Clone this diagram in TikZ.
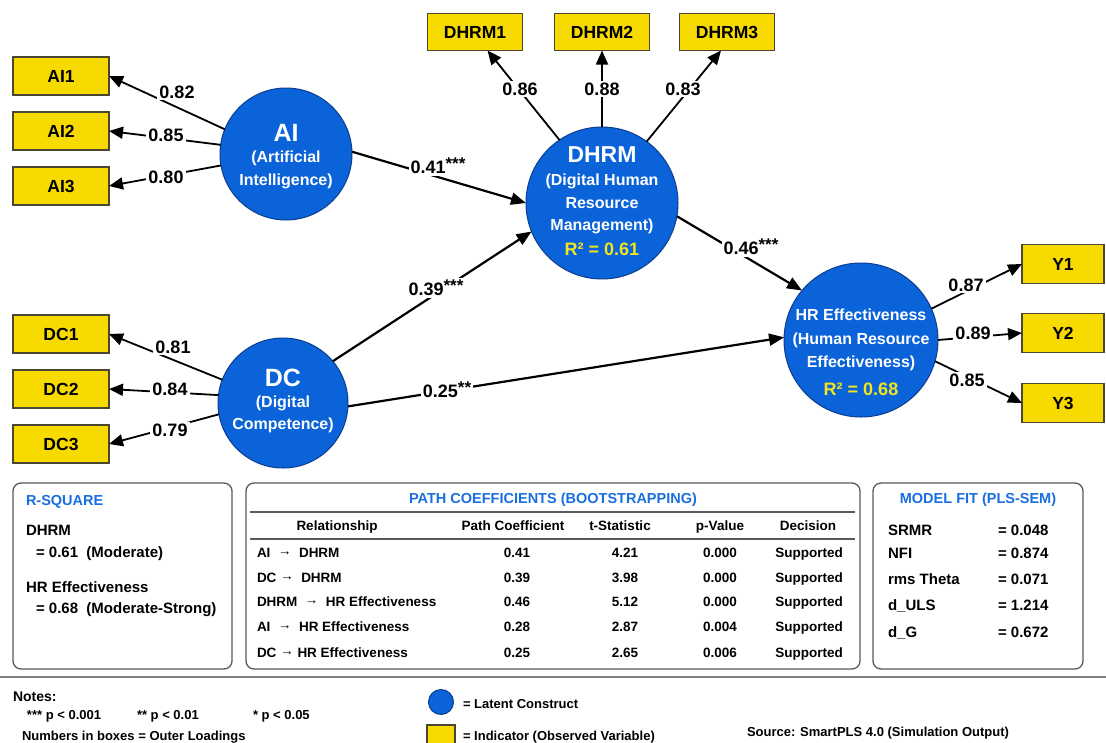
\documentclass[tikz,border=0pt]{standalone}
\usepackage{fontspec}
\setmainfont{Liberation Sans}
\usetikzlibrary{arrows.meta}
\definecolor{latf}{HTML}{0A63D8}
\definecolor{latb}{HTML}{0B3D91}
\definecolor{indf}{HTML}{F7DA00}
\definecolor{indb}{HTML}{4A4630}
\definecolor{ttl}{HTML}{1A6FE0}
\definecolor{rsq}{HTML}{F4E51E}
\definecolor{panel}{HTML}{5A5A5A}
\newcommand\fsz[2]{\fontsize{#1}{#2}\selectfont}
\newcommand\stars[1]{\raisebox{0.22em}{\fsz{17}{17}#1}}
\newcommand\rar{\raisebox{0.08em}{→}}
\begin{document}
\begin{tikzpicture}[x=1pt,y=-1pt,
  every node/.style={inner sep=0pt, outer sep=0pt},
  ind/.style={draw=indb, line width=1.2pt, fill=indf, minimum width=96pt, minimum height=38pt, font=\bfseries\fsz{17.5}{20}},
  lat/.style={circle, draw=latb, line width=1pt, fill=latf},
  ltxt/.style={text=white, font=\bfseries\fsz{16}{18}},
  lbig/.style={text=white, font=\bfseries\fsz{25}{28}},
  lr2/.style={text=rsq, font=\bfseries\fsz{18}{20}},
  load/.style={line width=1.8pt, -{Triangle[length=14pt,width=12pt]}},
  pth/.style={line width=2.2pt, -{Triangle[length=15pt,width=12pt]}},
  lbl/.style={fill=white, inner sep=2pt, font=\bfseries\fsz{18}{20}},
  panelbox/.style={draw=panel, line width=1.3pt, rounded corners=8pt, fill=white},
  ttlS/.style={text=ttl, font=\bfseries\fsz{14.5}{16}},
  tb/.style={font=\bfseries\fsz{13.5}{16}},
  tbb/.style={font=\bfseries\fsz{15}{17}},
  rule/.style={draw=panel, line width=1.8pt},
  nt/.style={font=\bfseries\fsz{13}{15}}
]
\fill[white] (0,0) rectangle (1106,742);
\useasboundingbox (0,0) rectangle (1106,742);

% indicators
\node[ind] (AI1) at (61,76) {AI1};
\node[ind] (AI2) at (61,131) {AI2};
\node[ind] (AI3) at (61,186) {AI3};
\node[ind] (DC1) at (61,334) {DC1};
\node[ind] (DC2) at (61,389) {DC2};
\node[ind] (DC3) at (61,444) {DC3};
\node[ind, minimum width=95pt, minimum height=37pt] (DHRM1) at (475,32) {DHRM1};
\node[ind, minimum width=95pt, minimum height=37pt] (DHRM2) at (602,32) {DHRM2};
\node[ind, minimum width=95pt, minimum height=37pt] (DHRM3) at (727,32) {DHRM3};
\node[ind, minimum width=82pt, minimum height=39pt] (Y1) at (1063,264) {Y1};
\node[ind, minimum width=82pt, minimum height=39pt] (Y2) at (1063,333) {Y2};
\node[ind, minimum width=82pt, minimum height=39pt] (Y3) at (1063,403) {Y3};

% latent constructs
\node[lat, minimum size=132pt] (AI) at (286,154) {};
\node[lat, minimum size=130pt] (DC) at (283,403) {};
\node[lat, minimum size=152pt] (DHRM) at (602,203) {};
\node[lat, minimum size=154pt] (HR) at (861,340) {};

% outer loadings
\draw[load] (AI.158) -- (AI1.east);
\draw[load] (AI.172) -- (AI2.east);
\draw[load] (AI.190) -- (AI3.east);
\draw[load] (DC.159) -- (DC1.east);
\draw[load] (DC.173) -- (DC2.east);
\draw[load] (DC.190) -- (DC3.east);
\draw[load] (DHRM.124) -- (DHRM1.-56);
\draw[load] (DHRM.90) -- (DHRM2.south);
\draw[load] (DHRM.54) -- (DHRM3.-108);
\draw[load] (HR.24) -- (Y1.west);
\draw[load] (HR.0) -- (Y2.west);
\draw[load] (HR.-16) -- (Y3.west);

% structural paths
\draw[pth] (AI.2) -- (DHRM.180);
\draw[pth] (DC.40) -- (DHRM.202);
\draw[pth] (DHRM.-10) -- (HR.140);
\draw[pth] (DC.-3) -- (HR.178);

% labels
\node[lbl] (l82) at (177,92) {0.82};
\node[lbl] (l85) at (166,135) {0.85};
\node[lbl] (l80) at (166,177) {0.80};
\node[lbl] (l81) at (173,347) {0.81};
\node[lbl] (l84) at (170,389) {0.84};
\node[lbl] (l79) at (170,430) {0.79};
\node[lbl] (l86) at (520,89) {0.86};
\node[lbl] (l88) at (602,89) {0.88};
\node[lbl] (l83) at (683,89) {0.83};
\node[lbl] (l87) at (966,285) {0.87};
\node[lbl] (l89) at (973,333) {0.89};
\node[lbl] (l85b) at (967,380) {0.85};
\node[lbl] (p41) at (438,166) {0.41\stars{***}};
\node[lbl] (p39) at (436,288) {0.39\stars{***}};
\node[lbl] (p46) at (751,247) {0.46\stars{***}};
\node[lbl] (p25) at (447,390) {0.25\stars{**}};

% circle texts
\node[lbig] (aiT1) at (286,133) {AI};
\node[ltxt] (aiT2) at (286,158) {(Artificial};
\node[ltxt] (aiT3) at (286,181) {Intelligence)};
\node[lbig] (dcT1) at (283,378) {DC};
\node[ltxt] (dcT2) at (283,403) {(Digital};
\node[ltxt] (dcT3) at (283,425) {Competence)};
\node[lbig, font=\bfseries\fsz{23}{26}] (dhT1) at (602,155) {DHRM};
\node[ltxt] (dhT2) at (602,181) {(Digital Human};
\node[ltxt] (dhT3) at (602,203) {Resource};
\node[ltxt] (dhT4) at (602,226) {Management)};
\node[lr2] (dhT5) at (602,249) {R² = 0.61};
\node[ltxt] (hrT1) at (861,315) {HR Effectiveness};
\node[ltxt] (hrT2) at (861,340) {(Human Resource};
\node[ltxt] (hrT3) at (861,363) {Effectiveness)};
\node[lr2] (hrT4) at (861,389) {R² = 0.68};

% panels
\node[panelbox, minimum width=219pt, minimum height=186pt] (rsqBox) at (122.5,576) {};
\node[panelbox, minimum width=614pt, minimum height=186pt] (pcBox) at (553,576) {};
\node[panelbox, minimum width=210pt, minimum height=186pt] (mfBox) at (978,576) {};

\node[ttlS, anchor=base west] (rsqT) at (26,505) {R-SQUARE};
\node[tbb, anchor=base west] (rsq1) at (26,535.5) {DHRM};
\node[tbb, anchor=base west] (rsq2) at (36,557.5) {= 0.61\ \ (Moderate)};
\node[tbb, anchor=base west] (rsq3) at (26,592.5) {HR Effectiveness};
\node[tbb, anchor=base west] (rsq4) at (36,613.5) {= 0.68\ \ (Moderate-Strong)};

\node[ttlS, anchor=base] (pcT) at (553,503) {PATH COEFFICIENTS (BOOTSTRAPPING)};
\draw[rule] (250,512) -- (855,512);
\draw[rule] (250,539) -- (855,539);
\node[tb, anchor=base] (h1) at (337,530) {Relationship};
\node[tb, anchor=base] (h2) at (513,530) {Path Coefficient};
\node[tb, anchor=base] (h3) at (620,530) {t-Statistic};
\node[tb, anchor=base] (h4) at (720,530) {p-Value};
\node[tb, anchor=base] (h5) at (808,530) {Decision};
\foreach \y/\r/\c/\t/\p [count=\i] in {
  557/{AI\ \ \rar\ \ DHRM}/0.41/4.21/0.000,
  582/{DC \rar\ \ DHRM}/0.39/3.98/0.000,
  606/{DHRM\ \ \rar\ \ HR Effectiveness}/0.46/5.12/0.000,
  631/{AI\ \ \rar\ \ HR Effectiveness}/0.28/2.87/0.004,
  657/{DC \rar\ HR Effectiveness}/0.25/2.65/0.006}{
  \node[tb, anchor=base west] (rel\i) at (257,\y) {\r};
  \node[tb, anchor=base] (coef\i) at (517,\y) {\c};
  \node[tb, anchor=base] (tst\i) at (625,\y) {\t};
  \node[tb, anchor=base] (pv\i) at (720,\y) {\p};
  \node[tb, anchor=base] (dec\i) at (809,\y) {Supported};
}

\node[ttlS, anchor=base] (mfT) at (978,503) {MODEL FIT (PLS-SEM)};
\foreach \y/\n/\v [count=\i] in {535.5/SRMR/0.048, 558.5/NFI/0.874, 584.5/rms Theta/0.071, 610.5/d\_ULS/1.214, 637.5/d\_G/0.672}{
  \node[tbb, anchor=base west] (mfn\i) at (888,\y) {\n};
  \node[tbb, anchor=base west] (mfv\i) at (998,\y) {=\ \v};
}

% footer
\draw[draw=gray, line width=2pt] (0,677) -- (1106,677);
\node[anchor=base west, font=\bfseries\fsz{14}{16}] (notesT) at (13,701) {Notes:};
\node[nt, anchor=base west] (n1) at (27,719) {*** p < 0.001};
\node[nt, anchor=base west] (n2) at (137,719) {** p < 0.01};
\node[nt, anchor=base west] (n3) at (253,719) {* p < 0.05};
\node[nt, anchor=base west] (n4) at (22,740) {Numbers in boxes = Outer Loadings};
\node[lat, minimum size=25pt] (legC) at (441,702) {};
\node[nt, anchor=base west] (legCT) at (463,708) {= Latent Construct};
\node[draw=indb, line width=1.2pt, fill=indf, minimum width=28pt, minimum height=26pt] (legS) at (441,738) {};
\node[nt, anchor=base west] (legST) at (463,740) {= Indicator (Observed Variable)};
\node[nt, anchor=base west] (src) at (747,736) {Source: SmartPLS 4.0 (Simulation Output)};
\end{tikzpicture}
\end{document}
